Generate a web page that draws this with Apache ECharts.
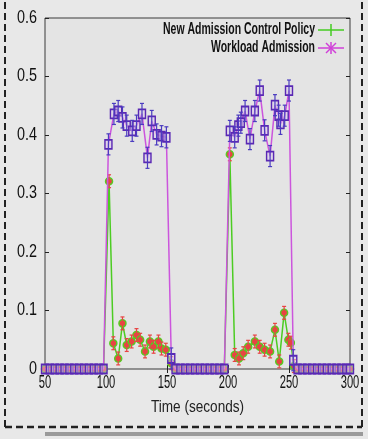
<!DOCTYPE html>
<html>
<head>
<meta charset="utf-8">
<script src="https://cdn.jsdelivr.net/npm/echarts@6/dist/echarts.min.js"></script>
<style>
html,body{margin:0;padding:0;background:#e8e8e8;}
#c{width:368px;height:439px;}
</style>
</head>
<body>
<div id="c"></div>
<script>
// ---- data (time in seconds, value) ----
const xTicks = [50, 100, 150, 200, 250, 300];
const yTicks = [0, 0.1, 0.2, 0.3, 0.4, 0.5, 0.6];
const xTitle = 'Time (seconds)';
const seriesNames = ['New Admission Control Policy', 'Workload Admission'];

const workloadTime = [50,54,58,62,66,70,74,78,82,86,90,94,98,
  102,106.5,110,113.5,117,121.5,125,129.5,134,137.5,141.5,145.5,149.5,153.5,
  157,161,165,169,173,177,181,185,189,193,197,
  201.5,205.5,208.5,210.5,214,218,222,226,230,234.5,238.5,241.5,243,246.5,250,253.5,
  257,261,265,269,273,277,281,285,289,293,297,300];
const workloadValue = [0,0,0,0,0,0,0,0,0,0,0,0,0,
  0.384,0.436,0.441,0.430,0.416,0.407,0.416,0.436,0.361,0.424,0.401,0.398,0.396,0.018,
  0,0,0,0,0,0,0,0,0,0,0,
  0.407,0.396,0.416,0.421,0.441,0.393,0.441,0.476,0.408,0.364,0.451,0.433,0.419,0.433,0.476,0.015,
  0,0,0,0,0,0,0,0,0,0,0,0];

const policyTime = [50,54,58,62,66,70,74,78,82,86,90,94,98,
  102.5,106,110,113.5,117,121,125,128,132,136,139,143,145.5,149,153.5,
  157,161,165,169,173,177,181,185,189,193,197,
  201.5,205.5,209,212.5,216.5,222,226,230,234.5,238.5,242,246,249.5,251.5,254,
  257,261,265,269,273,277,281,285,289,293,297,300];
const policyValue = [0,0,0,0,0,0,0,0,0,0,0,0,0,
  0.321,0.044,0.018,0.078,0.041,0.047,0.058,0.050,0.030,0.047,0.038,0.047,0.035,0.033,0.010,
  0,0,0,0,0,0,0,0,0,0,0,
  0.367,0.024,0.018,0.027,0.038,0.047,0.038,0.033,0.030,0.067,0.013,0.096,0.050,0.045,0.005,
  0,0,0,0,0,0,0,0,0,0,0,0];

const workloadErr = 0.018;
const policyErr = 0.011;

// ---- build ----
const pair = (ts, vs) => ts.map((t, i) => [t, vs[i]]);
const workloadData = pair(workloadTime, workloadValue);
const policyData = pair(policyTime, policyValue);
const errData = (d, e) => d.filter(p => p[1] > 0.004).map(p => [p[0], p[1], e]);

const FONT = "'Liberation Sans', Arial, sans-serif";

function errorSeries(d, e, color, z) {
  return {
    type: 'custom',
    data: errData(d, e),
    z: z,
    silent: true,
    renderItem: function (params, api) {
      const x = api.value(0), y = api.value(1), er = api.value(2);
      const lo = api.coord([x, y - er]);
      const hi = api.coord([x, y + er]);
      const cw = 2;
      return {
        type: 'group',
        children: [
          {type: 'line', shape: {x1: lo[0], y1: lo[1], x2: hi[0], y2: hi[1]}, style: {stroke: color, lineWidth: 1.2}},
          {type: 'line', shape: {x1: lo[0]-cw, y1: lo[1], x2: lo[0]+cw, y2: lo[1]}, style: {stroke: color, lineWidth: 1.2}},
          {type: 'line', shape: {x1: hi[0]-cw, y1: hi[1], x2: hi[0]+cw, y2: hi[1]}, style: {stroke: color, lineWidth: 1.2}}
        ]
      };
    }
  };
}

const tickStyle = {show: true, inside: true, length: 4, lineStyle: {color: '#222'}};
const chart = echarts.init(document.getElementById('c'), null, {renderer: 'canvas'});
const option = {
  backgroundColor: '#e8e8e8',
  animation: false,
  grid: {left: 45, right: 18, top: 18, bottom: 70, show: true, backgroundColor: '#e4e4e4', borderColor: '#3a3a3a', borderWidth: 1},
  xAxis: [{
    type: 'value', min: 50, max: 300, interval: 50,
    axisLine: {show: false}, axisTick: tickStyle, axisLabel: {show: false}, splitLine: {show: false}
  }, {
    type: 'value', position: 'top', min: 50, max: 300, interval: 50,
    axisLine: {show: false}, axisTick: tickStyle, axisLabel: {show: false}, splitLine: {show: false}
  }],
  yAxis: [{
    type: 'value', min: 0, max: 0.6, interval: 0.1,
    axisLine: {show: false}, axisTick: tickStyle, axisLabel: {show: false}, splitLine: {show: false}
  }, {
    type: 'value', position: 'right', min: 0, max: 0.6, interval: 0.1,
    axisLine: {show: false}, axisTick: tickStyle, axisLabel: {show: false}, splitLine: {show: false}
  }],
  series: [
    {
      name: seriesNames[0], type: 'line', data: policyData, z: 2,
      symbol: 'circle', symbolSize: 7,
      lineStyle: {color: '#4ccc22', width: 1.5},
      itemStyle: {color: '#e84444', borderColor: '#55cc22', borderWidth: 1.5}
    },
    errorSeries(policyData, policyErr, '#e84444', 3),
    {
      name: seriesNames[1], type: 'line', data: workloadData, z: 4,
      symbol: 'rect', symbolSize: [7, 9],
      lineStyle: {color: '#cc55dd', width: 1.5},
      itemStyle: {color: 'rgba(214,196,236,0.45)', borderColor: '#5a28b4', borderWidth: 1.6}
    },
    errorSeries(workloadData, workloadErr, '#4b3cc0', 5)
  ]
};
chart.setOption(option);

// ---- text (condensed look via scaleX) positioned through the axes ----
const px = v => chart.convertToPixel({xAxisIndex: 0}, v);
const py = v => chart.convertToPixel({yAxisIndex: 0}, v);
const y0 = py(0);
const xL = px(50), xR = px(300);
const g = [];
xTicks.forEach(v => g.push({
  type: 'text', x: px(v), y: y0 + 14, scaleX: 0.62, z: 10,
  style: {text: String(v), font: '18px ' + FONT, fill: '#111', textAlign: 'center', textVerticalAlign: 'middle'}
}));
yTicks.forEach(v => g.push({
  type: 'text', x: xL - 8, y: py(v), scaleX: 0.8, z: 10,
  style: {text: v === 0 ? '0' : v.toFixed(1), font: '18px ' + FONT, fill: '#111', textAlign: 'right', textVerticalAlign: 'middle'}
}));
g.push({
  type: 'text', x: (xL + xR) / 2, y: y0 + 39, scaleX: 0.85, z: 10,
  style: {text: xTitle, font: '16px ' + FONT, fill: '#222', textAlign: 'center', textVerticalAlign: 'middle'}
});
// legend
const legColors = ['#44cc22', '#d040d8'];
const legY = [30, 48];
const legTextX = 315, legL = 318, legR = 344, legC = 331;
seriesNames.forEach((n, i) => {
  g.push({type: 'text', x: legTextX, y: legY[i], scaleX: 0.655, z: 10,
    style: {text: n, font: 'bold 16px ' + FONT, fill: '#111', textAlign: 'right', textVerticalAlign: 'middle'}});
  g.push({type: 'line', z: 10, shape: {x1: legL, y1: legY[i], x2: legR, y2: legY[i]}, style: {stroke: legColors[i], lineWidth: 1.5}});
  g.push({type: 'line', z: 10, shape: {x1: legC, y1: legY[i] - 6, x2: legC, y2: legY[i] + 6}, style: {stroke: legColors[i], lineWidth: 1.5}});
  if (i === 1) {
    g.push({type: 'line', z: 10, shape: {x1: legC - 5, y1: legY[i] - 5, x2: legC + 5, y2: legY[i] + 5}, style: {stroke: legColors[i], lineWidth: 1.5}});
    g.push({type: 'line', z: 10, shape: {x1: legC + 5, y1: legY[i] - 5, x2: legC - 5, y2: legY[i] + 5}, style: {stroke: legColors[i], lineWidth: 1.5}});
  }
});
// outer dashed frame and shadow
g.push({type: 'line', shape: {x1: 5, y1: 2, x2: 5, y2: 427}, style: {stroke: '#222', lineWidth: 2, lineDash: [7, 4]}});
g.push({type: 'line', shape: {x1: 5, y1: 427, x2: 362, y2: 427}, style: {stroke: '#222', lineWidth: 2.5, lineDash: [7, 4]}});
g.push({type: 'line', shape: {x1: 362, y1: 2, x2: 362, y2: 427}, style: {stroke: '#222', lineWidth: 2, lineDash: [7, 4]}});
g.push({type: 'rect', shape: {x: 45, y: 432, width: 318, height: 4}, style: {fill: '#9a9a9a'}});
chart.setOption({graphic: g});
</script>
</body>
</html>
